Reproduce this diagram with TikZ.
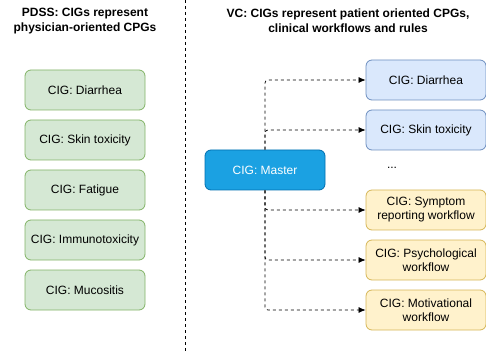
\documentclass[tikz,border=0pt]{standalone}
\usepackage{fontspec}
\setmainfont{Liberation Sans}
\usetikzlibrary{arrows.meta, positioning}

\definecolor{greenfill}{HTML}{D5E8D4}
\definecolor{greenline}{HTML}{82B366}
\definecolor{bluefill}{HTML}{DAE8FC}
\definecolor{blueline}{HTML}{6C8EBF}
\definecolor{yellowfill}{HTML}{FFF2CC}
\definecolor{yellowline}{HTML}{D6B656}
\definecolor{masterfill}{HTML}{1BA1E2}
\definecolor{masterline}{HTML}{006EAF}

\tikzset{
    cig/.style={draw, rounded corners=6pt, minimum width=120pt, minimum height=40pt,
        align=center, inner sep=2pt, line width=0.8pt},
    pdss/.style={cig, fill=greenfill, draw=greenline},
    guideline/.style={cig, fill=bluefill, draw=blueline},
    workflow/.style={cig, fill=yellowfill, draw=yellowline},
    master/.style={cig, fill=masterfill, draw=masterline, text=white},
    title/.style={font=\fontsize{12}{15}\selectfont\bfseries, align=center},
    link/.style={dashed, line width=0.7pt, rounded corners=3pt, -{Latex[length=7pt,width=6pt]}}
}

\begin{document}
\begin{tikzpicture}[x=1pt, y=-1pt, font=\fontsize{12}{14}\selectfont]
\useasboundingbox (0,0) rectangle (486,352);

% titles
\node[title] (ttl) at (85,21) {PDSS: CIGs represent\\physician-oriented CPGs};
\node[title] (ttr) at (348,21) {VC: CIGs represent patient oriented CPGs,\\clinical workflows and rules};

% separator
\draw[dashed, line width=0.7pt] (185,0) -- (185,352);

% left column
\foreach \y/\name in {90/Diarrhea,140/Skin toxicity,190/Fatigue,240/Immunotoxicity,290/Mucositis} {
    \node[pdss] (p\y) at (85,\y) {CIG: \name};
}

% right column
\node[master] (master) at (265,170) {CIG: Master};

\node[guideline] (diarrhea) at (426,80) {CIG: Diarrhea};
\node[guideline] (skin) at (426,130) {CIG: Skin toxicity};
\node (dots) at (392,168) {...};
\node[workflow] (symptom) at (426,210) {CIG: Symptom\\reporting workflow};
\node[workflow] (psych) at (426,260) {CIG: Psychological\\workflow};
\node[workflow] (motiv) at (426,310) {CIG: Motivational\\workflow};

\draw[link] (master.north) |- (diarrhea.west);
\draw[link] (master.north) |- (skin.west);
\draw[link] (master.south) |- (symptom.west);
\draw[link] (master.south) |- (psych.west);
\draw[link] (master.south) |- (motiv.west);
\end{tikzpicture}
\end{document}
